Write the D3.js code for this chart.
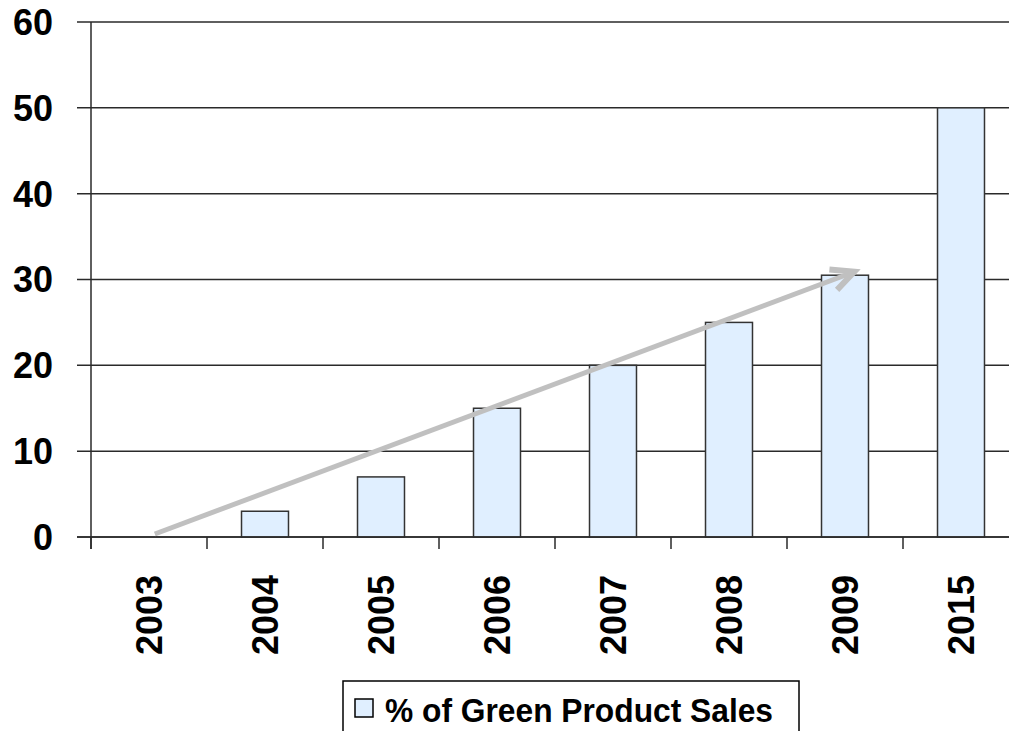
<!DOCTYPE html>
<html>
<head>
<meta charset="utf-8">
<script src="https://cdn.jsdelivr.net/npm/d3@7"></script>
<style>
  html, body { margin: 0; padding: 0; background: #fff; }
  svg text { font-family: "Liberation Sans", Arial, sans-serif; font-weight: bold; fill: #000; }
</style>
</head>
<body>
<svg id="chart" width="1009" height="731"></svg>
<script>
// Share of green product sales by year (%)
const years = ["2003", "2004", "2005", "2006", "2007", "2008", "2009", "2015"];
const salesShare = [0, 3, 7, 15, 20, 25, 30.5, 50];
const yTicks = [0, 10, 20, 30, 40, 50, 60];
const seriesName = "% of Green Product Sales";

// Trend arrow: [year, position within the year's band (0..1), value]
const trendStart = ["2003", 0.55, 0.35];
const trendEnd = ["2009", 0.58, 30.9];

const svg = d3.select("#chart");
const W = 1009, H = 731;
const plot = { left: 91, right: 1019, top: 22, bottom: 537 };

const x = d3.scaleBand()
  .domain(years)
  .range([plot.left, plot.right])
  .paddingInner(0.595)
  .paddingOuter(0.2975);

// Band boundaries (for tick marks) use a zero-padding band scale
const xb = d3.scaleBand().domain(years).range([plot.left, plot.right]);

const y = d3.scaleLinear().domain([0, 60]).range([plot.bottom, plot.top]);

const lineColor = "#2a2a2a";

// Horizontal gridlines with short outward ticks
svg.append("g").selectAll("line").data(yTicks).join("line")
  .attr("x1", plot.left - 14)
  .attr("x2", W)
  .attr("y1", d => y(d))
  .attr("y2", d => y(d))
  .attr("stroke", lineColor)
  .attr("stroke-width", 1.5);

// Y axis labels
svg.append("g").selectAll("text").data(yTicks).join("text")
  .attr("x", plot.left - 38)
  .attr("y", d => y(d))
  .attr("dy", "0.36em")
  .attr("text-anchor", "end")
  .style("font-size", "36px")
  .text(d => d);

// Bars
svg.append("g").selectAll("rect").data(years.map((yr, i) => ({ yr, v: salesShare[i] })).filter(d => d.v > 0))
  .join("rect")
  .attr("x", d => x(d.yr))
  .attr("width", x.bandwidth())
  .attr("y", d => y(d.v))
  .attr("height", d => y(0) - y(d.v))
  .attr("fill", "#e0efff")
  .attr("stroke", "#333")
  .attr("stroke-width", 1.5);

// Y axis line
svg.append("line")
  .attr("x1", plot.left).attr("x2", plot.left)
  .attr("y1", plot.top).attr("y2", plot.bottom + 12)
  .attr("stroke", lineColor).attr("stroke-width", 1.5);

// Category boundary ticks below the baseline
svg.append("g").selectAll("line").data(years).join("line")
  .attr("x1", d => xb(d)).attr("x2", d => xb(d))
  .attr("y1", plot.bottom).attr("y2", plot.bottom + 12)
  .attr("stroke", lineColor).attr("stroke-width", 1.5);

// Baseline
svg.append("line")
  .attr("x1", plot.left - 14).attr("x2", W)
  .attr("y1", y(0)).attr("y2", y(0))
  .attr("stroke", lineColor).attr("stroke-width", 1.5);

// Rotated year labels
svg.append("g").selectAll("text").data(years).join("text")
  .attr("transform", d => `translate(${xb(d) + xb.bandwidth() / 2},${plot.bottom + 38}) rotate(-90)`)
  .attr("dy", "0.36em")
  .attr("text-anchor", "end")
  .style("font-size", "36px")
  .text(d => d);

// Trend arrow
const p0 = [xb(trendStart[0]) + xb.bandwidth() * trendStart[1], y(trendStart[2])];
const p1 = [xb(trendEnd[0]) + xb.bandwidth() * trendEnd[1], y(trendEnd[2])];
const ang = Math.atan2(p1[1] - p0[1], p1[0] - p0[0]);
const headLen = 25, headAng = 26 * Math.PI / 180;
const b1 = [p1[0] - headLen * Math.cos(ang - headAng), p1[1] - headLen * Math.sin(ang - headAng)];
const b2 = [p1[0] - headLen * Math.cos(ang + headAng), p1[1] - headLen * Math.sin(ang + headAng)];
const arrow = svg.append("g")
  .attr("fill", "none")
  .attr("stroke", "#c0c0c0")
  .attr("stroke-width", 5);
arrow.append("path").attr("d", d3.line()([p0, [p1[0] - 2 * Math.cos(ang), p1[1] - 2 * Math.sin(ang)]]));
arrow.append("path").attr("d", d3.line()([b1, p1, b2]))
  .attr("stroke-width", 6)
  .attr("stroke-linejoin", "miter");

// Legend
const legend = svg.append("g").attr("transform", "translate(343,681)");
legend.append("rect")
  .attr("x", 0).attr("y", 0).attr("width", 456).attr("height", 70)
  .attr("fill", "#fff").attr("stroke", "#000").attr("stroke-width", 1.5);
legend.append("rect")
  .attr("x", 12).attr("y", 18).attr("width", 18).attr("height", 18)
  .attr("fill", "#e0efff").attr("stroke", "#000").attr("stroke-width", 1.5);
legend.append("text")
  .attr("x", 42).attr("y", 41)
  .attr("textLength", 388)
  .attr("lengthAdjust", "spacingAndGlyphs")
  .style("font-size", "34px")
  .text(seriesName);
</script>
</body>
</html>
